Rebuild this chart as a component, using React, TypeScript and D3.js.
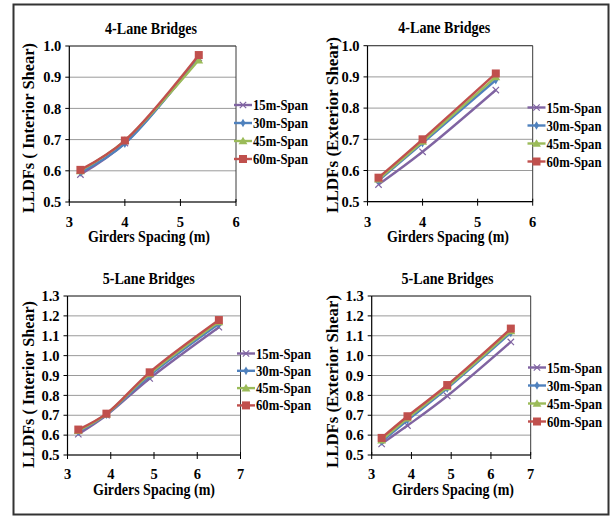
import React from "react";
import * as d3 from "d3";

const seriesNames = ["15m-Span", "30m-Span", "45m-Span", "60m-Span"];
const seriesColors = ["#8064a2", "#4f81bd", "#9bbb59", "#c0504d"];
const seriesMarkers = ["x", "diamond", "triangle", "square"];

const spacing4 = [3.2, 4.0, 5.33];
const spacing5 = [3.25, 3.9, 4.9, 6.5];

const lane4Interior = [
  [0.588, 0.689, 0.962],
  [0.595, 0.687, 0.965],
  [0.6, 0.697, 0.955],
  [0.603, 0.697, 0.971],
];
const lane4Exterior = [
  [0.555, 0.66, 0.858],
  [0.568, 0.688, 0.89],
  [0.572, 0.693, 0.9],
  [0.577, 0.7, 0.911],
];
const lane5Interior = [
  [0.605, 0.7, 0.885, 1.143],
  [0.618, 0.703, 0.9, 1.16],
  [0.622, 0.706, 0.908, 1.17],
  [0.628, 0.708, 0.916, 1.179],
];
const lane5Exterior = [
  [0.556, 0.648, 0.797, 1.069],
  [0.568, 0.675, 0.835, 1.115],
  [0.575, 0.685, 0.843, 1.125],
  [0.586, 0.695, 0.852, 1.136],
];

const xTicks4 = [3, 4, 5, 6];
const xTicks5 = [3, 4, 5, 6, 7];
const yTicks4 = [0.5, 0.6, 0.7, 0.8, 0.9, 1.0];
const yTicks5 = [0.5, 0.6, 0.7, 0.8, 0.9, 1.0, 1.1, 1.2, 1.3];

const titles = ["4-Lane Bridges", "4-Lane Bridges", "5-Lane Bridges", "5-Lane Bridges"];
const yTitles = [
  "LLDFs ( Interior Shear)",
  "LLDFs (Exterior Shear)",
  "LLDFs ( Interior Shear)",
  "LLDFs (Exterior Shear)",
];
const xTitle = "Girders Spacing (m)";

const FONT = "'Liberation Serif', 'Times New Roman', Times, serif";

type Layout = {
  x0: number; x1: number; y0: number; y1: number;
  titleX: number; titleY: number;
  xTitleX: number; xTitleY: number; xTickY: number;
  yTitleX: number; yTitleY: number; yTitleLen: number;
  legX: number; legY: number; legDy: number;
};

const layouts: Layout[] = [
  { x0: 69.3, x1: 236, y0: 202, y1: 46, titleX: 151, titleY: 34, xTitleX: 149, xTitleY: 242, xTickY: 226.5, yTitleX: 33.5, yTitleY: 128, yTitleLen: 170, legX: 234, legY: 105, legDy: 18 },
  { x0: 367.5, x1: 532.7, y0: 201.7, y1: 45.7, titleX: 444.3, titleY: 32.5, xTitleX: 448, xTitleY: 242, xTickY: 226.5, yTitleX: 338, yTitleY: 125, yTitleLen: 176, legX: 527.5, legY: 107.5, legDy: 18 },
  { x0: 67.5, x1: 240.5, y0: 455, y1: 296, titleX: 148.7, titleY: 283.5, xTitleX: 154, xTitleY: 495, xTickY: 479, yTitleX: 33.5, yTitleY: 384.5, yTitleLen: 167, legX: 237, legY: 353.5, legDy: 17.3 },
  { x0: 371.7, x1: 530.7, y0: 455, y1: 296, titleX: 447.5, titleY: 283.5, xTitleX: 453, xTitleY: 495, xTickY: 479, yTitleX: 338, yTitleY: 381.5, yTitleLen: 173, legX: 528, legY: 367.5, legDy: 18 },
];

const panelData = [lane4Interior, lane4Exterior, lane5Interior, lane5Exterior];
const panelX = [spacing4, spacing4, spacing5, spacing5];
const panelXTicks = [xTicks4, xTicks4, xTicks5, xTicks5];
const panelYTicks = [yTicks4, yTicks4, yTicks5, yTicks5];

function Marker({ kind, x, y, color }: { kind: string; x: number; y: number; color: string }) {
  if (kind === "square") {
    return <rect x={x - 4} y={y - 4} width={8} height={8} fill={color} />;
  }
  if (kind === "triangle") {
    const p = d3.symbol(d3.symbolTriangle, 34)();
    return <path d={p || ""} transform={`translate(${x},${y + 0.8})`} fill={color} />;
  }
  if (kind === "diamond") {
    const p = d3.symbol(d3.symbolDiamond, 22)();
    return <path d={p || ""} transform={`translate(${x},${y})`} fill={color} />;
  }
  const s = 3.2;
  return (
    <path
      d={`M${x - s},${y - s}L${x + s},${y + s}M${x - s},${y + s}L${x + s},${y - s}`}
      stroke={color}
      strokeWidth={1.2}
      fill="none"
    />
  );
}

function Panel({ idx }: { idx: number }) {
  const L = layouts[idx];
  const xt = panelXTicks[idx];
  const yt = panelYTicks[idx];
  const xs = panelX[idx];
  const data = panelData[idx];
  const xScale = d3.scaleLinear().domain([xt[0], xt[xt.length - 1]]).range([L.x0, L.x1]);
  const yScale = d3.scaleLinear().domain([yt[0], yt[yt.length - 1]]).range([L.y0, L.y1]);
  const line = d3
    .line<[number, number]>()
    .x((d) => xScale(d[0]))
    .y((d) => yScale(d[1]))
    .curve(d3.curveCatmullRom.alpha(0.5));

  return (
    <g fontFamily={FONT} fontWeight="bold" fill="#000">
      <text x={L.titleX} y={L.titleY} textAnchor="middle" fontSize={16.5} textLength={92} lengthAdjust="spacingAndGlyphs">
        {titles[idx]}
      </text>
      {yt.map((t) => (
        <line key={"g" + t} x1={L.x0} x2={L.x1} y1={yScale(t)} y2={yScale(t)} stroke="#9a9a9a" strokeWidth={1} />
      ))}
      <line x1={L.x0} x2={L.x1} y1={L.y1} y2={L.y1} stroke="#3a3a3a" strokeWidth={1} />
      <line x1={L.x1} x2={L.x1} y1={L.y1} y2={L.y0} stroke="#3a3a3a" strokeWidth={1} />
      <line x1={L.x0} x2={L.x0} y1={L.y1} y2={L.y0} stroke="#000" strokeWidth={1.2} />
      <line x1={L.x0} x2={L.x1} y1={L.y0} y2={L.y0} stroke="#000" strokeWidth={1.2} />
      {yt.map((t) => (
        <g key={"y" + t}>
          <line x1={L.x0 - 4} x2={L.x0} y1={yScale(t)} y2={yScale(t)} stroke="#000" strokeWidth={1} />
          <text x={L.x0 - 8} y={yScale(t)} dy="0.36em" textAnchor="end" fontSize={14.5}>
            {t.toFixed(1)}
          </text>
        </g>
      ))}
      {xt.map((t) => (
        <g key={"x" + t}>
          <line x1={xScale(t)} x2={xScale(t)} y1={L.y0 - 3} y2={L.y0 + 4} stroke="#000" strokeWidth={1} />
          <text x={xScale(t)} y={L.xTickY} textAnchor="middle" fontSize={14.5}>
            {t}
          </text>
        </g>
      ))}
      <text x={L.xTitleX} y={L.xTitleY} textAnchor="middle" fontSize={16.5} textLength={122} lengthAdjust="spacingAndGlyphs">
        {xTitle}
      </text>
      <text
        transform={`translate(${L.yTitleX},${L.yTitleY}) rotate(-90)`}
        textAnchor="middle"
        fontSize={16}
        textLength={L.yTitleLen}
        lengthAdjust="spacingAndGlyphs"
      >
        {yTitles[idx]}
      </text>
      {data.map((vals, si) => {
        const pts: [number, number][] = xs.map((x, i) => [x, vals[i]]);
        return (
          <g key={"s" + si}>
            <path d={line(pts) || ""} fill="none" stroke={seriesColors[si]} strokeWidth={2.4} />
            {pts.map((p, i) => (
              <Marker key={i} kind={seriesMarkers[si]} x={xScale(p[0])} y={yScale(p[1])} color={seriesColors[si]} />
            ))}
          </g>
        );
      })}
      {seriesNames.map((name, si) => {
        const ly = L.legY + si * L.legDy;
        return (
          <g key={"l" + si}>
            <line x1={L.legX} x2={L.legX + 18} y1={ly} y2={ly} stroke={seriesColors[si]} strokeWidth={2.4} />
            <Marker kind={seriesMarkers[si]} x={L.legX + 9} y={ly} color={seriesColors[si]} />
            <text x={L.legX + 19} y={ly} dy="0.36em" fontSize={14} textLength={55} lengthAdjust="spacingAndGlyphs">
              {name}
            </text>
          </g>
        );
      })}
    </g>
  );
}

export default function App() {
  return (
    <svg
      width={611}
      height={516}
      style={{ position: "absolute", left: 0, top: 0, background: "#fff" }}
    >
      <rect x={0} y={0} width={611} height={516} fill="#fff" />
      <rect x={13.5} y={4.5} width={595} height={510} fill="none" stroke="#333" strokeWidth={2} />
      {[0, 1, 2, 3].map((i) => (
        <Panel key={i} idx={i} />
      ))}
    </svg>
  );
}
